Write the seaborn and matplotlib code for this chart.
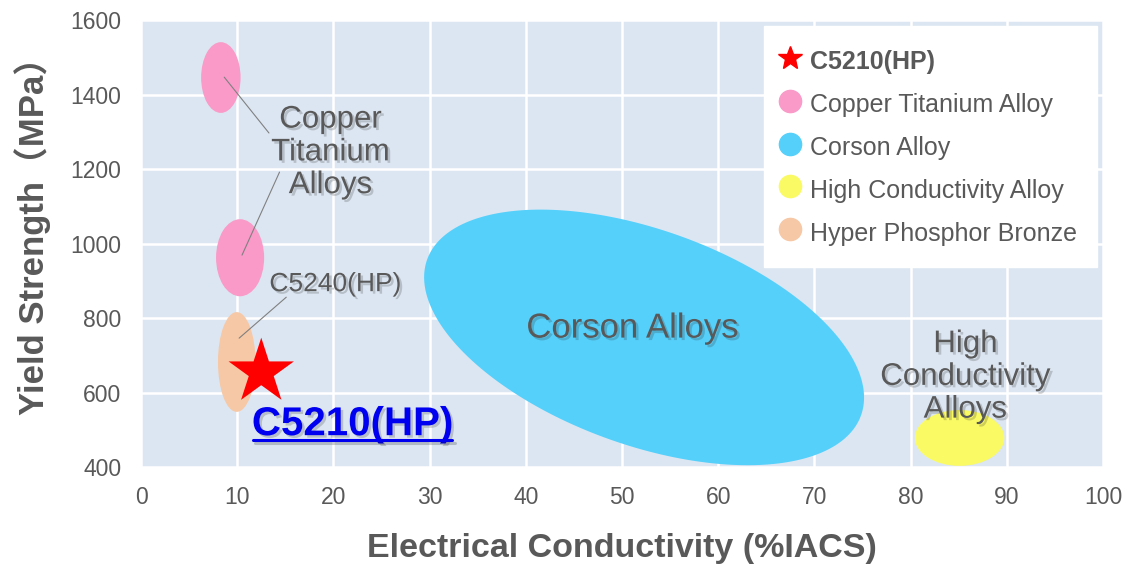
import seaborn as sns
import matplotlib.pyplot as plt
import matplotlib.patheffects as pe
from matplotlib.patches import Ellipse
from matplotlib.lines import Line2D
import numpy as np
import pandas as pd

# regioes das ligas (elipses alinhadas aos eixos)
ligas = ['Copper Titanium Alloy', 'Copper Titanium Alloy', 'Hyper Phosphor Bronze', 'High Conductivity Alloy']
centro_x = [8.3, 10.3, 9.95, 85.1]
centro_y = [1446, 962, 682, 478]
largura = [4.1, 5.0, 3.9, 9.3]
altura = [190, 207, 268, 150]

# corson: elipse inclinada (centro, fim do eixo maior, fim do eixo menor)
corson_centro = (52.3, 748)
corson_eixo_maior = (29.75, 957.6)
corson_eixo_menor = (48.5, 476.2)

# C5210(HP)
ponto_x = [12.5]
ponto_y = [655]

# linhas de chamada (inicio -> fim)
chamada_x0 = [8.65, 10.5, 10.2]
chamada_y0 = [1447, 969, 746]
chamada_x1 = [13.3, 14.4, 15.1]
chamada_y1 = [1297, 1192, 856]

legenda_nomes = ['C5210(HP)', 'Copper Titanium Alloy', 'Corson Alloy', 'High Conductivity Alloy', 'Hyper Phosphor Bronze']
cores = {
    'Copper Titanium Alloy': '#F99AC8',
    'Corson Alloy': '#55D0FB',
    'High Conductivity Alloy': '#FAFA64',
    'Hyper Phosphor Bronze': '#F6C8A6',
}
cinza = '#595959'

sns.set_theme(style='darkgrid', rc={'axes.facecolor': '#DCE6F2', 'grid.color': 'white',
                                    'grid.linewidth': 1.8, 'axes.edgecolor': 'none'})
plt.rcParams['font.family'] = ['Liberation Sans', 'Noto Sans CJK JP']

fig = plt.figure(figsize=(11.29, 5.67), dpi=100)
ax = fig.add_axes([0.1249, 0.1764, 0.852, 0.788])

for nome, x, y, w, h in zip(ligas, centro_x, centro_y, largura, altura):
    ax.add_patch(Ellipse((x, y), w, h, facecolor=cores[nome], edgecolor='none', zorder=2))

t = np.linspace(0, 2 * np.pi, 300)
ux = corson_eixo_maior[0] - corson_centro[0]
uy = corson_eixo_maior[1] - corson_centro[1]
vx = corson_eixo_menor[0] - corson_centro[0]
vy = corson_eixo_menor[1] - corson_centro[1]
ax.fill(corson_centro[0] + ux * np.cos(t) + vx * np.sin(t),
        corson_centro[1] + uy * np.cos(t) + vy * np.sin(t),
        color=cores['Corson Alloy'], lw=0, zorder=2)

for xa, ya, xb, yb in zip(chamada_x0, chamada_y0, chamada_x1, chamada_y1):
    ax.plot([xa, xb], [ya, yb], color='#808080', lw=0.8, zorder=3)

df_ponto = pd.DataFrame({'x': ponto_x, 'y': ponto_y})
sns.scatterplot(data=df_ponto, x='x', y='y', marker='*', s=2450, color='red',
                edgecolor='none', ax=ax, zorder=4, legend=False)

sombra = [pe.withSimplePatchShadow(offset=(1.8, -1.8), shadow_rgbFace='#333333', alpha=0.22)]

ax.text(19.7, 1245, 'Copper\nTitanium\nAlloys', fontsize=22.5, color=cinza, ha='center', va='center',
        linespacing=1.12, path_effects=sombra, zorder=5)
ax.text(20.2, 891, 'C5240(HP)', fontsize=19, color=cinza, ha='center', va='center',
        path_effects=sombra, zorder=5)
ax.text(51.1, 773, 'Corson Alloys', fontsize=25, color=cinza, ha='center', va='center',
        path_effects=sombra, zorder=5)
ax.text(85.7, 642, 'High\nConductivity\nAlloys', fontsize=22.5, color=cinza, ha='center', va='center',
        linespacing=1.12, path_effects=sombra, zorder=5)
texto_c5210 = ax.text(22.0, 515, 'C5210(HP)', fontsize=29, fontweight='bold', color='#0000F0',
                      ha='center', va='center', path_effects=sombra, zorder=5)

ax.set_xlim(0, 100)
ax.set_ylim(400, 1600)
ax.set_xticks(range(0, 101, 10))
ax.set_yticks(range(400, 1601, 200))
ax.tick_params(length=0, pad=14, labelsize=16.5, colors=cinza)

ax.set_xlabel('Electrical Conductivity (%IACS)', fontsize=24.5, fontweight='bold', color=cinza)
ax.xaxis.set_label_coords(0.5, -0.148)
ax.set_ylabel('Yield Strength（MPa）', fontsize=25, fontweight='bold', color=cinza)
ax.yaxis.set_label_coords(-0.094, 0.535)

handles = [Line2D([], [], marker='*', color='red', linestyle='none', markersize=18)]
for nome in legenda_nomes[1:]:
    handles.append(Line2D([], [], marker='o', color=cores[nome], linestyle='none', markersize=16))
leg = ax.legend(handles, legenda_nomes, loc='upper right', fontsize=18, frameon=True,
                facecolor='white', edgecolor='white', framealpha=1, fancybox=False,
                borderpad=0.8, labelspacing=0.56, handleheight=1.4, handletextpad=0.54,
                handlelength=0.5, borderaxespad=0.25)
for txt in leg.get_texts():
    txt.set_color(cinza)
leg.get_texts()[0].set_fontweight('bold')

# sublinhado do C5210(HP)
fig.canvas.draw()
bb = texto_c5210.get_window_extent()
fig.add_artist(Line2D([bb.x0 + 1, bb.x1 - 1], [bb.y0 + 3, bb.y0 + 3], transform=None,
                      color='#0000F0', lw=2.2, zorder=5,
                      path_effects=[pe.SimpleLineShadow(offset=(1.8, -1.8), alpha=0.22), pe.Normal()]))

plt.savefig('out.png', dpi=100)
